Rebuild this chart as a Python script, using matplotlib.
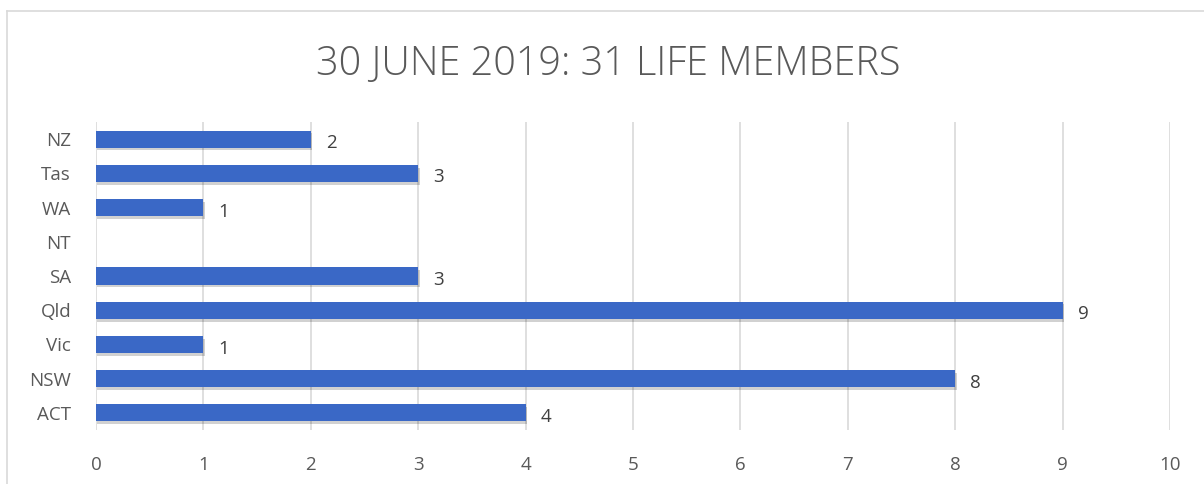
import matplotlib
matplotlib.use("Agg")
import matplotlib.pyplot as plt
from matplotlib import patheffects as pe

categories = ["ACT", "NSW", "Vic", "Qld", "SA", "NT", "WA", "Tas", "NZ"]
values = [4, 8, 1, 9, 3, 0, 1, 3, 2]
xticks = [0, 1, 2, 3, 4, 5, 6, 7, 8, 9, 10]
title = "30 JUNE 2019: 31 LIFE MEMBERS"

plt.rcParams['font.family'] = ['Open Sans', 'DejaVu Sans']
text_color = "#595959"

fig = plt.figure(figsize=(12.04, 4.84), dpi=100)
ax = fig.add_axes([96/1204, 1-430/484, (1170-96)/1204, (430-122)/484])

# outer chart border (top and left edges visible)
fig.add_artist(plt.Line2D([7/1204, 1], [1-11/484, 1-11/484], transform=fig.transFigure,
                          color="#D9D9D9", lw=1.2))
fig.add_artist(plt.Line2D([7/1204, 7/1204], [0, 1-11/484], transform=fig.transFigure,
                          color="#D9D9D9", lw=1.2))

y = list(range(len(categories)))
bars = ax.barh(y, values, height=0.5, color="#3A68C6", zorder=3,
               path_effects=[pe.SimplePatchShadow(offset=(1, -2), shadow_rgbFace="#000000", alpha=0.18),
                             pe.Normal()])
for yi, v in zip(y, values):
    if v > 0:
        ax.text(v + 0.14, yi - 0.12, str(v), va="center", ha="left", fontsize=13.5, color="#404040")

ax.set_xlim(0, 10)
ax.set_ylim(-0.5, len(categories) - 0.5)
ax.set_xticks(xticks)
ax.set_xticklabels([str(t) for t in xticks])
ax.set_yticks(y)
ax.set_yticklabels(categories)
ax.tick_params(axis="both", length=0, labelsize=13.5, labelcolor=text_color)
ax.tick_params(axis="x", pad=19)
ax.tick_params(axis="y", pad=18)
ax.grid(axis="x", color="#D9D9D9", lw=1.2, zorder=0)
for s in ax.spines.values():
    s.set_visible(False)

fig.text(608/1204, 1-65/484, title, ha="center", va="center", fontsize=28.5,
         color=text_color, fontweight="light")

fig.savefig("out.png", dpi=100)
